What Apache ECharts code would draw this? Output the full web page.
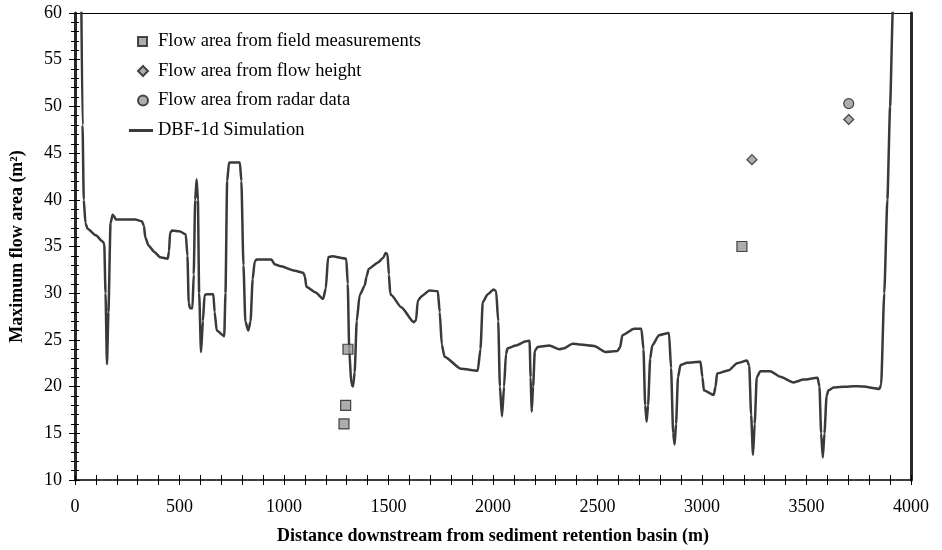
<!DOCTYPE html>
<html>
<head>
<meta charset="utf-8">
<script src="https://cdn.jsdelivr.net/npm/echarts@6/dist/echarts.min.js"></script>
<style>
  html, body { margin: 0; padding: 0; background: #fff; }
  #chart { width: 942px; height: 550px; }
</style>
</head>
<body>
<div id="chart"></div>
<script>
// DBF-1d simulated maximum flow area along the channel
const simDistance = [30, 36, 42, 50, 60, 100, 129, 140, 146, 153, 160, 170, 180, 188, 195, 288, 320, 330, 336, 352, 380, 407, 444, 450, 455, 465, 503, 530, 538, 544, 550, 562, 568, 575, 582, 588, 594, 603, 612, 620, 630, 662, 668, 678, 714, 720, 728, 737, 789, 796, 806, 815, 829, 840, 850, 860, 869, 940, 955, 980, 1052, 1092, 1100, 1107, 1150, 1187, 1200, 1211, 1230, 1298, 1305, 1312, 1322, 1330, 1338, 1348, 1362, 1386, 1395, 1405, 1450, 1475, 1486, 1495, 1502, 1508, 1513, 1561, 1621, 1632, 1640, 1660, 1696, 1736, 1745, 1755, 1768, 1847, 1927, 1940, 1951, 1975, 2003, 2015, 2025, 2033, 2043, 2053, 2062, 2070, 2110, 2158, 2175, 2180, 2185, 2192, 2200, 2213, 2269, 2317, 2340, 2380, 2484, 2539, 2595, 2608, 2619, 2675, 2710, 2720, 2728, 2735, 2742, 2752, 2762, 2794, 2842, 2852, 2862, 2869, 2876, 2885, 2897, 2929, 2993, 3002, 3009, 3056, 3065, 3072, 3128, 3168, 3216, 3226, 3235, 3244, 3252, 3262, 3279, 3327, 3375, 3438, 3486, 3553, 3562, 3570, 3578, 3586, 3596, 3605, 3629, 3725, 3772, 3849, 3857, 3872, 3887, 3900, 3913, 3918];
const simArea = [62, 48, 40, 37.5, 36.9, 36.2, 35.6, 35.3, 30, 22.4, 28, 37.5, 38.4, 38.2, 37.9, 37.9, 37.7, 37.2, 36.0, 35.1, 34.4, 33.85, 33.7, 34.5, 36.5, 36.7, 36.6, 36.3, 34, 29, 28.4, 28.4, 32, 40, 42.2, 40, 30, 23.7, 27, 29.8, 29.9, 29.9, 28, 26.0, 25.4, 30, 42, 44.0, 44.0, 42, 33, 27, 26.0, 27, 31.5, 33.4, 33.6, 33.6, 33.1, 32.9, 32.4, 32.2, 31.8, 30.7, 30.1, 29.4, 30.5, 33.85, 33.95, 33.7, 31, 24, 20.3, 20.0, 21.5, 27, 29.8, 30.8, 31.8, 32.6, 33.3, 33.8, 34.3, 34.2, 32, 30, 29.8, 28.5, 26.9, 27.1, 29.2, 29.7, 30.3, 30.2, 28, 24.5, 23.2, 21.9, 21.7, 24, 29.05, 29.9, 30.4, 30.2, 27, 20, 16.8, 20, 23.5, 24.1, 24.4, 24.85, 24.9, 21, 17.3, 20, 23.8, 24.25, 24.4, 24.0, 24.1, 24.6, 24.35, 23.7, 23.8, 24.2, 25.5, 26.2, 26.2, 24, 18, 16.25, 18, 23, 24.4, 25.5, 25.75, 22, 15, 13.8, 16, 21, 22.3, 22.55, 22.65, 21, 19.6, 19.1, 20, 21.4, 21.75, 22.5, 22.8, 22.2, 17, 12.7, 16, 21, 21.65, 21.65, 21.05, 20.45, 20.75, 20.95, 20, 15, 12.4, 15, 19, 19.6, 19.9, 20.05, 20.0, 19.75, 20.2, 30, 40.05, 50, 60.3, 65];

// Observed flow areas
const fieldDistance = [1287, 1295, 1306, 3191];
const fieldArea = [16.0, 18.0, 24.0, 35.0];
const heightDistance = [3239, 3702];
const heightArea = [44.3, 48.6];
const radarDistance = [3702];
const radarArea = [50.3];

const seriesNames = [
  'Flow area from field measurements',
  'Flow area from flow height',
  'Flow area from radar data',
  'DBF-1d Simulation'
];
const xAxisTitle = 'Distance downstream from sediment retention basin (m)';
const yAxisTitle = 'Maximum flow area (m²)';

const zip = (xs, ys) => xs.map((x, i) => [x, ys[i]]);
const plain = v => String(v);

const FONT = '"Liberation Serif", "Times New Roman", serif';
const INK = '#000';
const MARK_FILL = '#999999';
const MARK_EDGE = '#1f1f1f';
const LINE_COLOR = '#3a3a3a';

const chart = echarts.init(document.getElementById('chart'), null, { renderer: 'canvas' });

function legendAt(name, left, top, w, h, pad, icon) {
  const lg = {
    data: [name], left: left, top: top, orient: 'vertical',
    itemWidth: w, itemHeight: h, padding: 0,
    selectedMode: false,
    textStyle: { fontFamily: FONT, fontSize: 18.5, color: INK, padding: [0, 0, 0, pad] }
  };
  if (icon) lg.icon = icon;
  return lg;
}

const baseX = { type: 'value', min: 0, max: 4000, interval: 500, gridIndex: 0 };
const baseY = { type: 'value', min: 10, max: 60, interval: 5, gridIndex: 0 };

chart.setOption({
  animation: false,
  backgroundColor: '#fff',
  grid: { left: 73, right: 31, top: 13, bottom: 68, containLabel: false },
  legend: [
    legendAt(seriesNames[0], 137, 32, 9, 9, 6),
    legendAt(seriesNames[1], 137, 61.5, 10, 10, 5),
    legendAt(seriesNames[2], 137, 91, 10, 10, 5),
    legendAt(seriesNames[3], 129, 121, 24, 3, 0, 'rect')
  ],
  xAxis: [
    Object.assign({}, baseX, {
      position: 'bottom',
      name: xAxisTitle, nameLocation: 'middle', nameGap: 47,
      nameTextStyle: { fontFamily: FONT, fontSize: 18, fontWeight: 'bold', color: INK },
      axisLine: { show: true, onZero: false, lineStyle: { color: INK, width: 1.5 } },
      axisTick: { show: true, inside: true, length: 5, lineStyle: { color: INK } },
      minorTick: { show: true, splitNumber: 5, length: 5, lineStyle: { color: INK } },
      axisLabel: { fontFamily: FONT, fontSize: 18, color: INK, margin: 18, formatter: plain },
      splitLine: { show: false }
    }),
    Object.assign({}, baseX, {
      position: 'bottom',
      axisLine: { show: false, onZero: false },
      axisTick: { show: true, inside: false, length: 5, lineStyle: { color: INK } },
      minorTick: { show: true, splitNumber: 5, length: 5, lineStyle: { color: INK } },
      axisLabel: { show: false },
      splitLine: { show: false }
    }),
    Object.assign({}, baseX, {
      position: 'top',
      axisLine: { show: true, onZero: false, lineStyle: { color: INK, width: 1 } },
      axisTick: { show: false }, axisLabel: { show: false }, splitLine: { show: false }
    })
  ],
  yAxis: [
    Object.assign({}, baseY, {
      position: 'left',
      name: yAxisTitle, nameLocation: 'middle', nameGap: 49, nameRotate: 90,
      nameTextStyle: { fontFamily: FONT, fontSize: 18, fontWeight: 'bold', color: INK },
      axisLine: { show: true, onZero: false, lineStyle: { color: '#2a2a2a', width: 3 } },
      axisTick: { show: true, inside: true, length: 5, lineStyle: { color: INK } },
      minorTick: { show: true, splitNumber: 5, length: 4, lineStyle: { color: INK } },
      axisLabel: { fontFamily: FONT, fontSize: 18, color: INK, margin: 13, formatter: plain },
      splitLine: { show: false }
    }),
    Object.assign({}, baseY, {
      position: 'left',
      axisLine: { show: false, onZero: false },
      axisTick: { show: true, inside: false, length: 6, lineStyle: { color: INK } },
      minorTick: { show: true, splitNumber: 5, length: 4, lineStyle: { color: INK } },
      axisLabel: { show: false },
      splitLine: { show: false }
    }),
    Object.assign({}, baseY, {
      position: 'right',
      axisLine: { show: true, onZero: false, lineStyle: { color: '#2a2a2a', width: 3 } },
      axisTick: { show: false }, axisLabel: { show: false }, splitLine: { show: false }
    })
  ],
  series: [
    {
      name: seriesNames[0], type: 'scatter', symbol: 'rect', symbolSize: 10,
      itemStyle: { color: MARK_FILL, borderColor: MARK_EDGE, borderWidth: 1.2 },
      data: zip(fieldDistance, fieldArea), z: 4
    },
    {
      name: seriesNames[1], type: 'scatter', symbol: 'diamond', symbolSize: 10,
      itemStyle: { color: MARK_FILL, borderColor: MARK_EDGE, borderWidth: 1.2 },
      data: zip(heightDistance, heightArea), z: 4
    },
    {
      name: seriesNames[2], type: 'scatter', symbol: 'circle', symbolSize: 10,
      itemStyle: { color: MARK_FILL, borderColor: MARK_EDGE, borderWidth: 1.2 },
      data: zip(radarDistance, radarArea), z: 4
    },
    {
      name: seriesNames[3], type: 'line', symbol: 'none', showSymbol: false,
      smooth: 0.2, smoothMonotone: 'x', clip: true,
      lineStyle: { color: LINE_COLOR, width: 2.5 },
      itemStyle: { color: LINE_COLOR },
      data: zip(simDistance, simArea), z: 3
    }
  ]
});
</script>
</body>
</html>
